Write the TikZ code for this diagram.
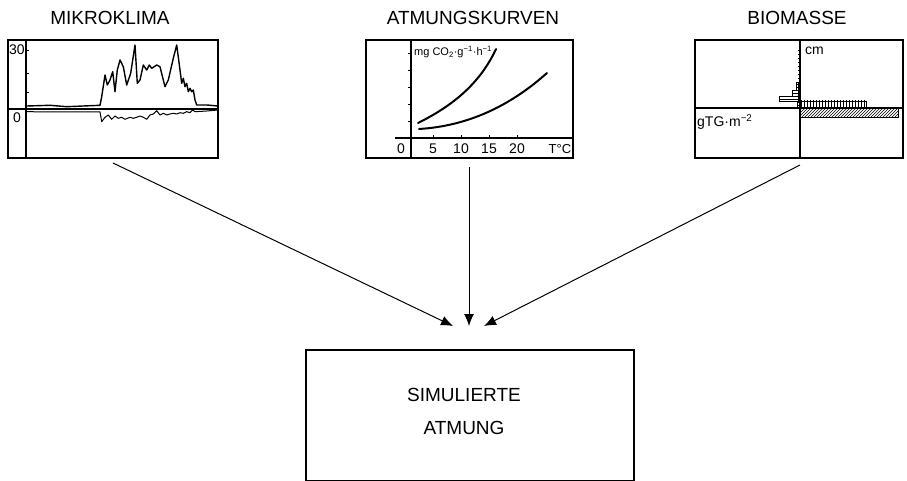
\documentclass[tikz,border=0pt]{standalone}
\usepackage{fontspec}
\setmainfont{Liberation Sans}
\usetikzlibrary{arrows.meta,patterns}
\begin{document}
\begin{tikzpicture}[x=1pt,y=-1pt,
  frame/.style={draw,line width=1.3pt,inner sep=0pt,outer sep=0pt},
  axis/.style={line width=1.1pt},
  tick/.style={line width=0.8pt},
  curve/.style={line width=1.4pt,line join=round},
  thickcurve/.style={line width=2pt,line cap=round},
  thincurve/.style={line width=1pt,line join=round},
  conn/.style={line width=1pt,-{Latex[length=12pt,width=10pt]}},
  title/.style={font=\fontsize{19}{22}\selectfont,inner sep=0pt},
  lab/.style={font=\fontsize{14}{16}\selectfont,inner sep=0pt},
  unit/.style={font=\fontsize{11}{13}\selectfont,inner sep=0pt},
  bar/.style={line width=0.7pt},
]
\useasboundingbox (0,0) rectangle (907,481);

% titles
\node[title] (t1) at (110,18) {MIKROKLIMA};
\node[title] (t2) at (473,18) {ATMUNGSKURVEN};
\node[title] (t3) at (797,18) {BIOMASSE};

% ---------- panel 1 : Mikroklima
\node[frame,minimum width=210pt,minimum height=118pt,anchor=north west] (p1) at (8,40) {};
\draw[axis] (26,40) -- (26,158);
\draw[axis] (8,109) -- (218,109);
\draw[tick] (26,50) -- (29,50) (26,73) -- (29,73) (26,92) -- (29,92);
\node[lab] (p1y30) at (17,50) {30};
\node[lab] (p1y0) at (17,118) {0};
\draw[curve] (26.7,106) -- (50,105.3) -- (66.7,106.7) -- (83.3,106) -- (100,105.3)
 -- (101.7,96.7) -- (105,75) -- (107.3,85) -- (110,80) -- (112.7,71.7) -- (115,91.7)
 -- (117.3,70) -- (120,60) -- (123.3,66.7) -- (126.7,85) -- (130.7,73.3) -- (135,45)
 -- (137.3,83.3) -- (140,80) -- (143.3,65) -- (146.7,70) -- (149.3,65) -- (151.7,68.3)
 -- (156.7,65) -- (160,66.7) -- (165,86.7) -- (168.3,80) -- (173.3,58.3) -- (176.7,45)
 -- (180,70) -- (181.7,83.3) -- (183.3,78.3) -- (185,86.7) -- (186.7,83.3) -- (188.3,91.7)
 -- (190,88.3) -- (191.7,91.7) -- (193.3,90) -- (195,100) -- (196.7,105) -- (206.7,105)
 -- (218,106);
\draw[thincurve] (26.7,111.7) -- (66.7,112) -- (100,112) -- (101.7,121.7) -- (105,117.3)
 -- (108.3,115) -- (111.7,119.3) -- (115,116) -- (118.3,118.3) -- (121.7,117.3)
 -- (125,119.3) -- (130,117.3) -- (133.3,118.3) -- (136.7,117.3) -- (140,116)
 -- (143.3,117.3) -- (146.7,119.3) -- (150,115) -- (153.3,114) -- (156.7,110.7)
 -- (160,115) -- (163.3,113.3) -- (166.7,115) -- (170,114) -- (173.3,113.3)
 -- (176.7,114) -- (180,112.7) -- (183.3,113.3) -- (186.7,111.7) -- (190,112.7)
 -- (192.7,110) -- (195,111.7) -- (206.7,111) -- (218,110);

% ---------- panel 2 : Atmungskurven
\node[frame,minimum width=207pt,minimum height=118pt,anchor=north west] (p2) at (366,40) {};
\draw[axis] (411,40) -- (411,158);
\draw[axis] (395,138) -- (573,138);
\foreach \yy in {53,70,87,104,121} \draw[tick] (408,\yy) -- (411,\yy);
\foreach \xx in {433,461,489,517} \draw[tick] (\xx,138) -- (\xx,135);
\node[unit,anchor=west] (p2u) at (414,52) {mg CO\textsubscript{2}·g\textsuperscript{−1}·h\textsuperscript{−1}};
\node[lab] (p2x0) at (401,149) {0};
\node[lab] (p2x5) at (433,149) {5};
\node[lab] (p2x10) at (461,149) {10};
\node[lab] (p2x15) at (489,149) {15};
\node[lab] (p2x20) at (517,149) {20};
\node[font=\fontsize{13}{15}\selectfont,inner sep=0pt] (p2xT) at (560,149) {T°C};
\draw[thickcurve] (418,123) .. controls (446,109) and (478,88) .. (496,49);
\draw[thickcurve] (419,129) .. controls (468,126) and (510,106) .. (547,73);

% ---------- panel 3 : Biomasse
\node[frame,minimum width=208pt,minimum height=118pt,anchor=north west] (p3) at (695,40) {};
\draw[axis] (800,40) -- (800,158);
\draw[axis] (695,108) -- (903,108);
\foreach \yy in {50,54,...,82} \draw[tick] (797.5,\yy) -- (800,\yy);
\node[lab,anchor=west] (p3cm) at (805,51) {cm};
\node[lab,anchor=west] (p3g) at (697,122) {gTG·m\textsuperscript{−2}};
\draw[bar,pattern=vertical lines] (800,101) rectangle (866,108);
\draw[bar,pattern=north east lines] (800,108) rectangle (898,117);
\draw[bar,pattern=horizontal lines] (779,96) rectangle (798,101);
\draw[bar,pattern=horizontal lines] (792,90) rectangle (798,96);
\draw[bar,pattern=horizontal lines] (796,82) rectangle (798,90);
\draw[bar,pattern=horizontal lines] (797,101) rectangle (800,108);

% ---------- result box
\node[frame,minimum width=328pt,minimum height=131pt,anchor=north west] (sim) at (306,350) {};
\node[title] (simA) at (464,395) {SIMULIERTE};
\node[title] (simB) at (464,428) {ATMUNG};

% ---------- connectors
\coordinate (s1) at (113,163);
\coordinate (s2) at (469,167);
\coordinate (s3) at (800,165);
\coordinate (e1) at (453,326);
\coordinate (e2) at (469,326);
\coordinate (e3) at (484,326);
\draw[conn] (s1) -- (e1);
\draw[conn] (s2) -- (e2);
\draw[conn] (s3) -- (e3);
\end{tikzpicture}
\end{document}
